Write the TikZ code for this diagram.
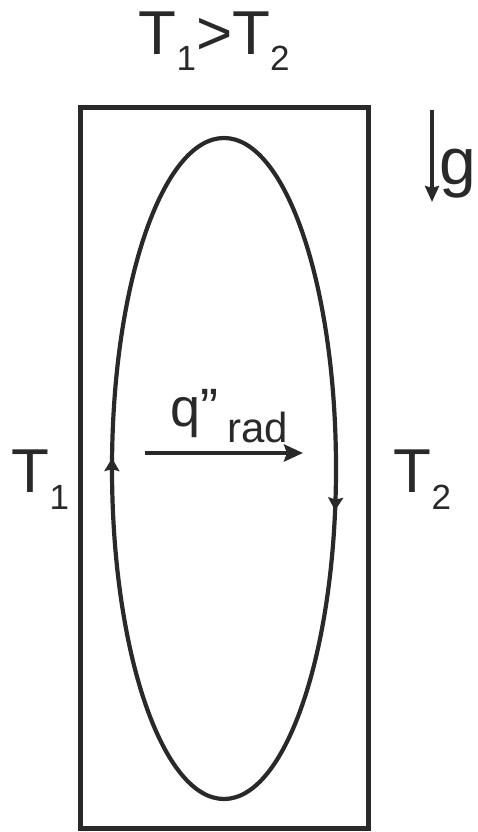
\documentclass[tikz,border=0pt]{standalone}
\usepackage{fontspec}
\setmainfont{Liberation Sans}
\usetikzlibrary{arrows.meta,decorations.markings}
\definecolor{ink}{rgb}{0.16,0.16,0.16}
\newcommand\lowsub[2][16pt]{\raisebox{-#1}{\fontsize{35}{35}\selectfont #2}}
\tikzset{
  box/.style={draw=ink,line width=5pt},
  loop/.style={draw=ink,line width=4.2pt},
  flowtip/.style={-{Stealth[length=19pt,width=17pt,inset=3pt]},draw=ink,line width=4pt},
  gtip/.style={-{Stealth[length=16pt,width=14pt,inset=2pt]},draw=ink,line width=3.6pt},
  lbl/.style={inner sep=0pt,anchor=base west,text=ink},
}
\begin{document}
\begin{tikzpicture}[x=1pt,y=1pt]
\useasboundingbox (0,0) rectangle (477,832);
% enclosure
\draw[box] (80,3) rectangle (368,724);
% circulation loop
\draw[loop,postaction={decorate},decoration={markings,
   mark=at position 0.0285 with {\arrow[ink]{Stealth[length=13pt,width=15pt,inset=2pt]}},
   mark=at position 0.507 with {\arrow[ink]{Stealth[length=13pt,width=15pt,inset=2pt]}}}]
   (336,363.5) arc[start angle=0,end angle=-360,x radius=112pt,y radius=330.5pt];
% radiation arrow
\coordinate (qs) at (145,379);
\coordinate (qe) at (303,379);
\draw[flowtip] (qs) -- (qe);
% gravity arrow
\coordinate (gs) at (432,722);
\coordinate (ge) at (432,630);
\draw[gtip] (gs) -- (ge);
% labels
\node[lbl] (top) at (138.6,777) {\fontsize{62}{62}\selectfont T\lowsub{1}>T\lowsub{2}};
\node[lbl] (t1) at (11.6,339) {\fontsize{62}{62}\selectfont T\lowsub[17pt]{1}};
\node[lbl] (t2) at (393.6,339) {\fontsize{62}{62}\selectfont T\lowsub[17pt]{2}};
\node[lbl] (g) at (439,647) {\fontsize{66}{66}\selectfont g};
\node[lbl] (q) at (170,405) {\fontsize{54}{54}\selectfont q”\hspace{9pt}\raisebox{-16pt}{\fontsize{42}{42}\selectfont rad}};
\end{tikzpicture}
\end{document}
